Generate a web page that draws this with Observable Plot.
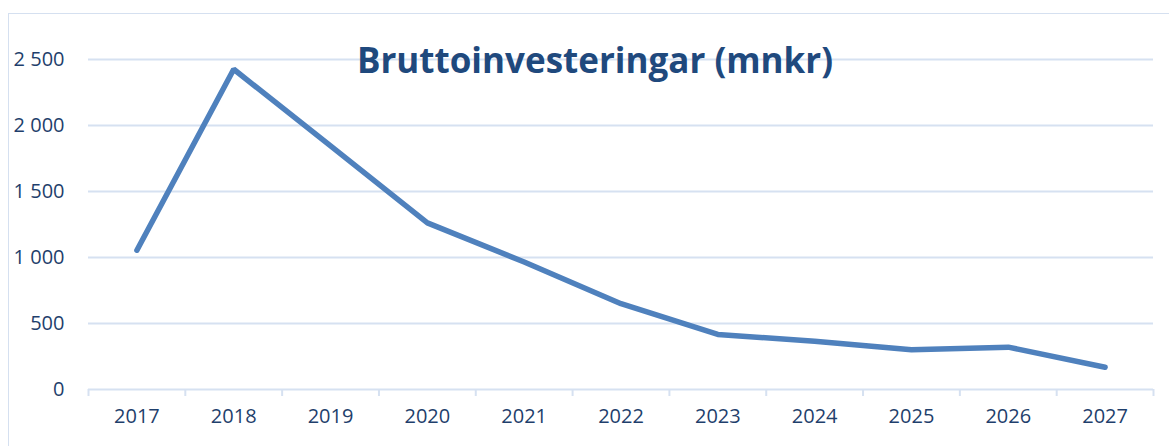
<!DOCTYPE html>
<html>
<head>
<meta charset="utf-8">
<script src="https://cdn.jsdelivr.net/npm/d3@7"></script>
<script src="https://cdn.jsdelivr.net/npm/@observablehq/plot@0.6"></script>
<style>
  html, body { margin: 0; padding: 0; background: #fff; }
  #wrap { position: relative; width: 1169px; height: 446px; overflow: hidden; }
  #frame { position: absolute; left: 8px; top: 13px; width: 1200px; height: 500px;
           border: 1.5px solid #d5e0f0; box-sizing: border-box; pointer-events: none; }
  #chart { position: absolute; left: 0; top: 0; }
</style>
</head>
<body>
<div id="wrap"><div id="chart"></div><div id="frame"></div></div>
<script>
const title = "Bruttoinvesteringar (mnkr)";
const years = [2017, 2018, 2019, 2020, 2021, 2022, 2023, 2024, 2025, 2026, 2027];
const values = [1055, 2426, 1845, 1262, 966, 650, 417, 366, 301, 321, 169];
const yTicks = [0, 500, 1000, 1500, 2000, 2500];
const gridTicks = [500, 1000, 1500, 2000, 2500];

const data = years.map((y, i) => ({year: y, value: values[i]}));
const bandEdges = [years[0] - 0.5, ...years.map(y => y + 0.5)];

const textColor = "#1f3f6c";
const gridColor = "#d6e1f1";
const fmt = d => d3.format(",")(d).replace(/,/g, " ");

const plot = Plot.plot({
  width: 1169,
  height: 446,
  marginLeft: 88,
  marginRight: 16,
  marginTop: 59,
  marginBottom: 57,
  style: { fontFamily: "'Open Sans', sans-serif", fontSize: "20px", color: textColor, background: "transparent" },
  x: { type: "linear", domain: [years[0] - 0.5, years[years.length - 1] + 0.5] },
  y: { domain: [0, 2500] },
  marks: [
    Plot.ruleY(gridTicks, { stroke: gridColor, strokeWidth: 1.8 }),
    Plot.ruleY([0], { stroke: gridColor, strokeWidth: 2 }),
    Plot.axisX(bandEdges, { tickSize: 7, stroke: gridColor, strokeWidth: 2, strokeOpacity: 1, tickFormat: () => "", label: null }),
    Plot.axisX(years, { tickSize: 0, tickPadding: 19, tickFormat: d => String(d), fill: textColor, fontSize: 20, label: null }),
    Plot.axisY(yTicks, { tickSize: 0, tickPadding: 24, tickFormat: fmt, fill: textColor, fontSize: 20, label: null }),
    Plot.line(data, { x: "year", y: "value", stroke: "#4f81bd", strokeWidth: 5.5, strokeLinecap: "round", strokeLinejoin: "miter" }),
    Plot.text([title], { frameAnchor: "top", dx: -26, dy: -11, text: d => d, fontSize: 35, fontWeight: "bold", fill: "#1f497d", fontFamily: "'Open Sans', sans-serif" })
  ]
});
document.getElementById("chart").appendChild(plot);
</script>
</body>
</html>
